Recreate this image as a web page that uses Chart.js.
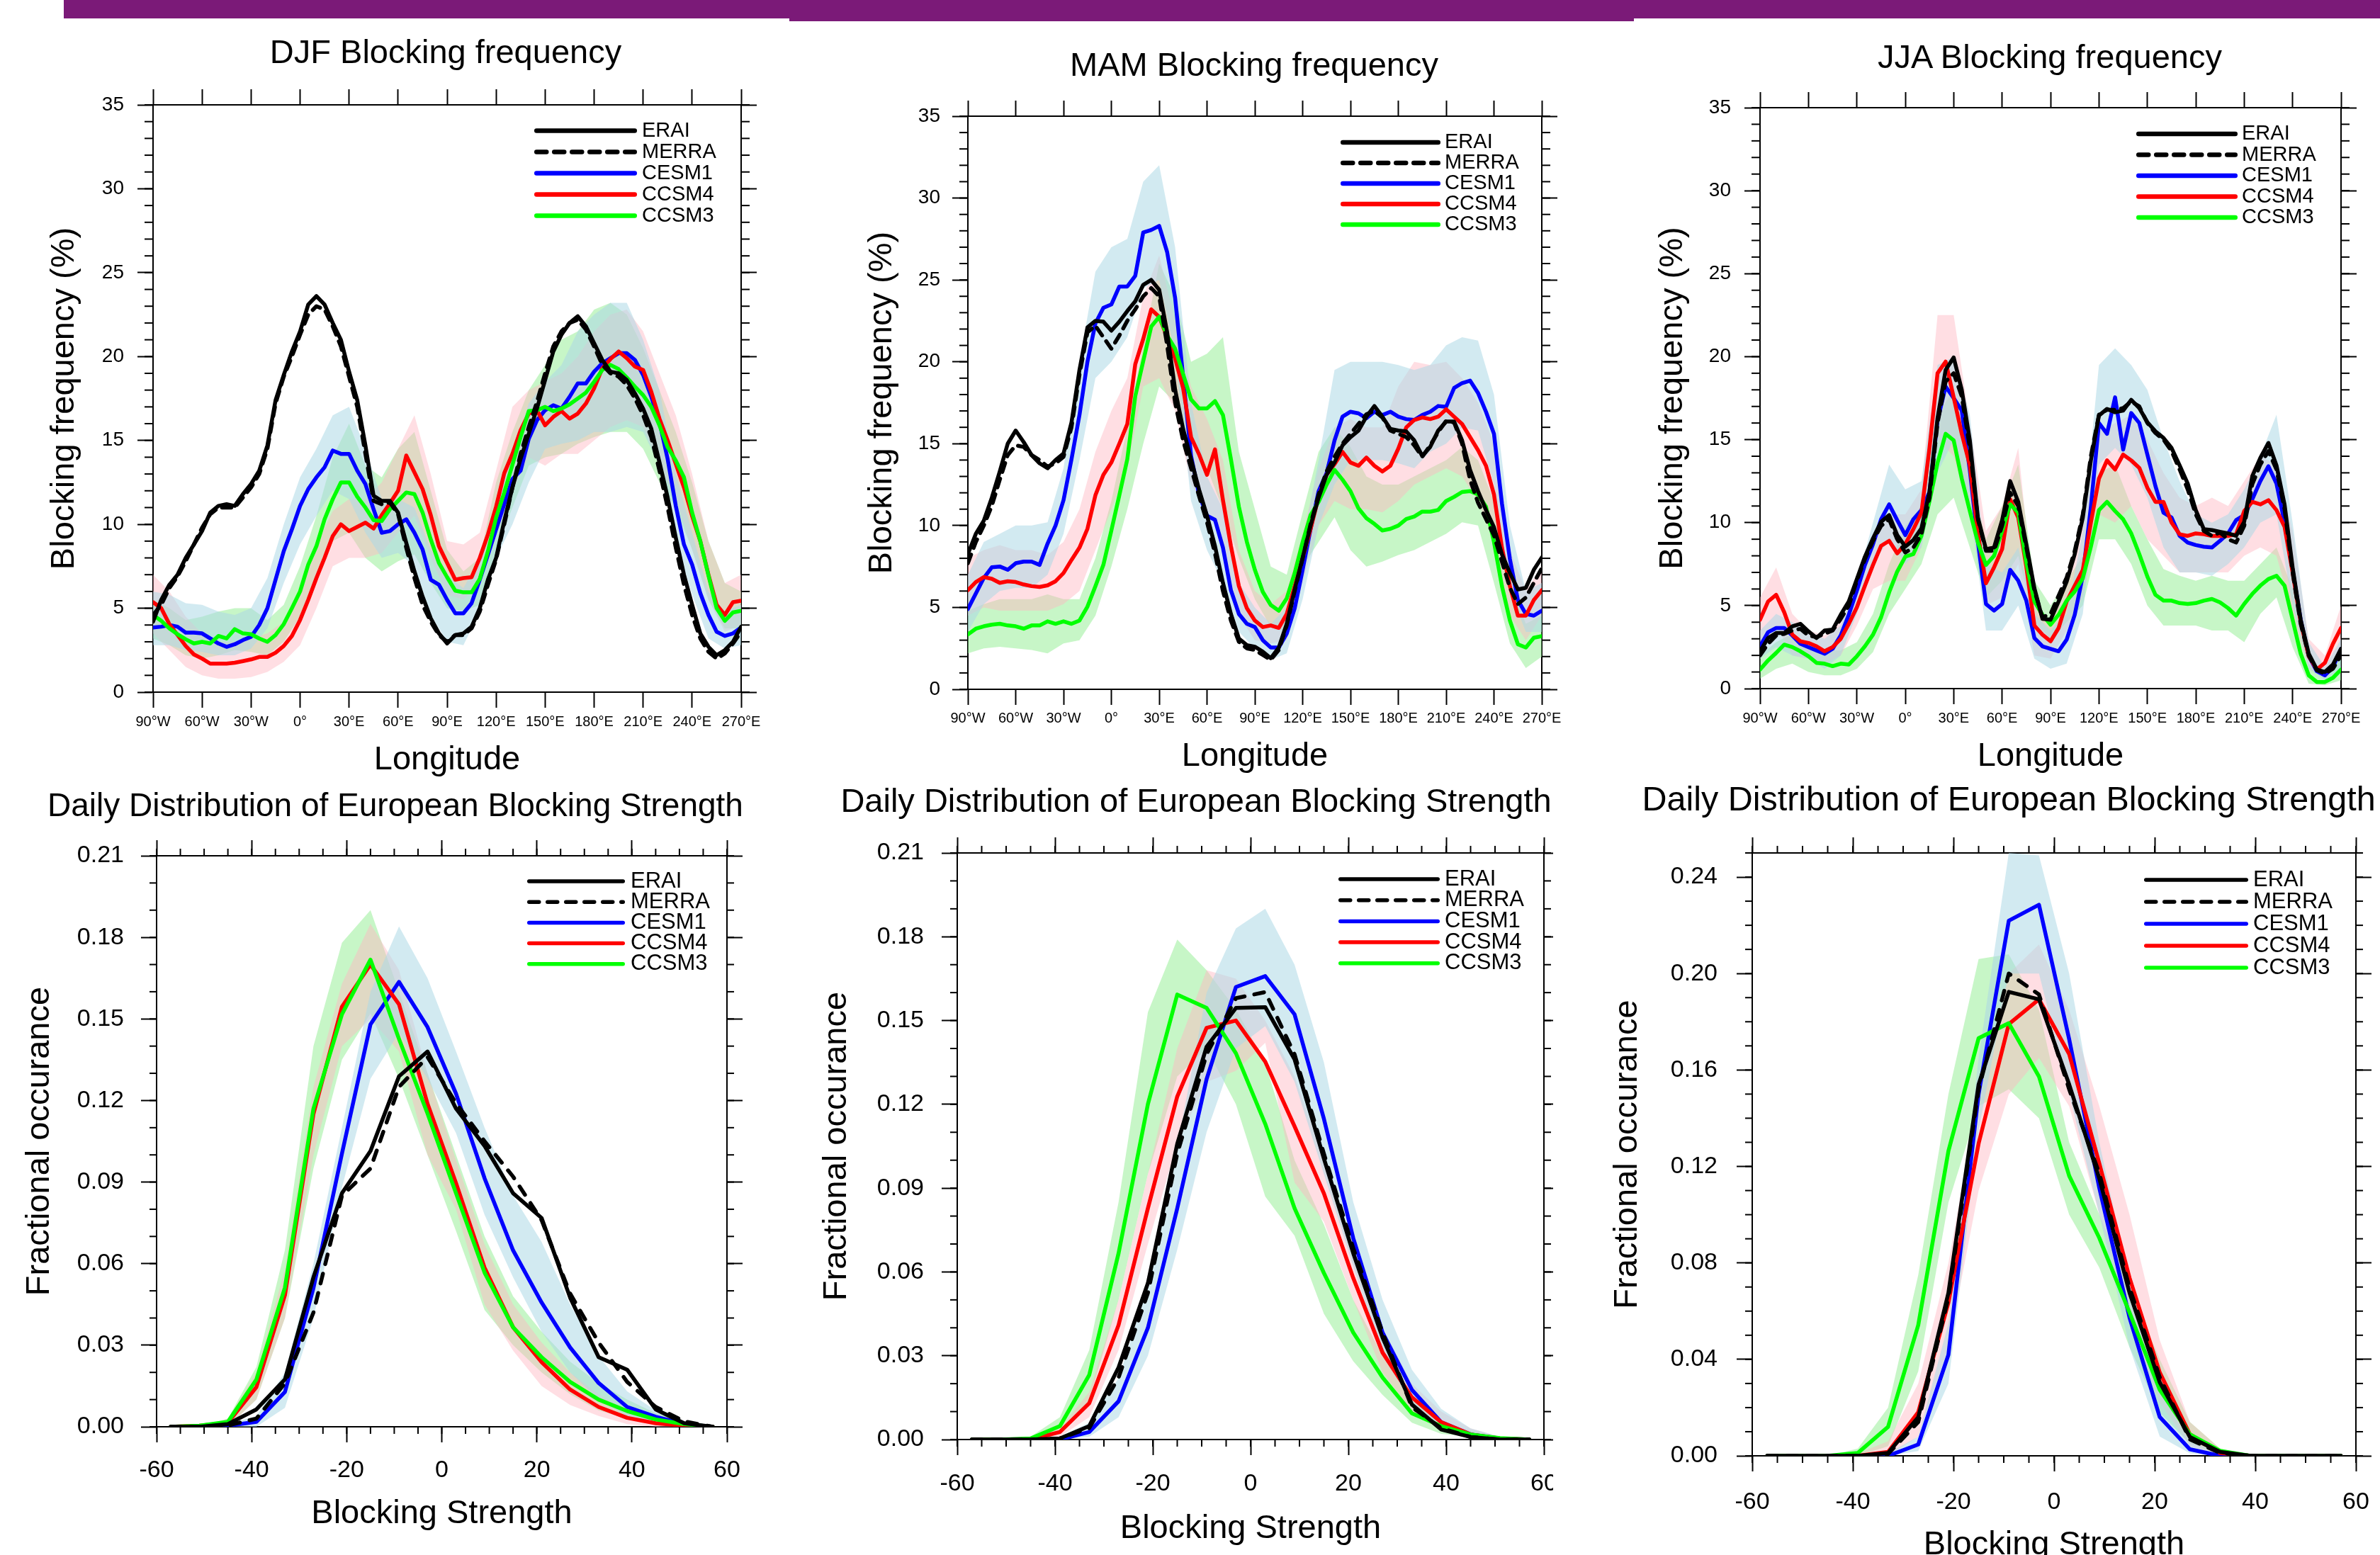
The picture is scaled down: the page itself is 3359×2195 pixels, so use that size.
<!DOCTYPE html>
<html>
<head>
<meta charset="utf-8">
<title>Blocking frequency and European blocking strength</title>
<script src="https://cdn.jsdelivr.net/npm/chart.js@4.4.1/dist/chart.umd.min.js"></script>
<style>
  html, body { margin: 0; padding: 0; }
  body { width: 3359px; height: 2195px; position: relative; overflow: hidden; background: #fff;
         font-family: "Liberation Sans", Arial, sans-serif; }
  .bar { position: absolute; top: 0; background: #7b1a78; z-index: 5; }
  canvas { position: absolute; }
  .ttl { position: absolute; transform: translate(-50%, -50%); white-space: nowrap; line-height: 1;
         color: #000; z-index: 4; }
</style>
</head>
<body>
<div class="bar" style="left:90px;width:1024px;height:26px"></div>
<div class="bar" style="left:1114px;width:1192px;height:30px"></div>
<div class="bar" style="left:2306px;width:1053px;height:26px"></div>

<div class="ttl" style="left:629px;top:72px;font-size:47px">DJF Blocking frequency</div>
<div class="ttl" style="left:1770px;top:90px;font-size:47px">MAM Blocking frequency</div>
<div class="ttl" style="left:2893px;top:79px;font-size:47px">JJA Blocking frequency</div>
<div class="ttl" style="left:558px;top:1136px;font-size:46px">Daily Distribution of European Blocking Strength</div>
<div class="ttl" style="left:1688px;top:1129px;font-size:47px">Daily Distribution of European Blocking Strength</div>
<div class="ttl" style="left:2835px;top:1127px;font-size:48.5px">Daily Distribution of European Blocking Strength</div>

<canvas id="cDJF"></canvas>
<canvas id="cMAM"></canvas>
<canvas id="cJJA"></canvas>
<canvas id="sDJF"></canvas>
<canvas id="sMAM"></canvas>
<canvas id="sJJA"></canvas>

<script>
// ===================== DATA =====================

const lonFine = [-90, -85, -80, -75, -70, -65, -60, -55, -50, -45, -40, -35, -30, -25, -20, -15, -10, -5,
  0, 5, 10, 15, 20, 25, 30, 35, 40, 45, 50, 55, 60, 65, 70, 75, 80, 85, 90, 95, 100, 105, 110, 115,
  120, 125, 130, 135, 140, 145, 150, 155, 160, 165, 170, 175, 180, 185, 190, 195, 200, 205, 210, 215,
  220, 225, 230, 235, 240, 245, 250, 255, 260, 265, 270];
const lonBand = [-90, -80, -70, -60, -50, -40, -30, -20, -10, 0, 10, 20, 30, 40, 50, 60, 70, 80, 90,
  100, 110, 120, 130, 140, 150, 160, 170, 180, 190, 200, 210, 220, 230, 240, 250, 260, 270];

// --- DJF blocking frequency (%) ---
const djfERAI = [4.2, 5.5, 6.4, 7.0, 8.0, 8.8, 9.6, 10.7, 11.1, 11.2, 11.1, 11.8, 12.4, 13.2, 14.7, 17.4, 18.9, 20.3,
  21.5, 23.1, 23.6, 23.1, 22.0, 21.0, 19.1, 17.4, 14.7, 11.7, 11.4, 11.4, 10.7, 8.9, 7.2, 5.7, 4.4, 3.5,
  2.9, 3.4, 3.5, 3.9, 5.0, 6.7, 8.0, 10.2, 12.2, 13.9, 15.4, 16.9, 18.6, 20.3, 21.3, 22.0, 22.4, 21.8,
  20.8, 19.8, 19.1, 19.0, 18.6, 17.8, 16.9, 15.7, 13.7, 11.6, 9.2, 7.0, 5.2, 3.5, 2.7, 2.2, 2.5, 3.0, 3.9];
const djfMERRA = [4.6, 5.2, 6.2, 6.9, 7.8, 8.8, 9.8, 10.6, 11.0, 11.0, 11.0, 11.6, 12.2, 13.0, 14.5, 17.2, 18.8, 20.0,
  21.3, 22.5, 23.0, 22.8, 21.8, 20.6, 18.8, 17.0, 14.2, 11.4, 11.2, 11.3, 10.6, 8.6, 6.8, 5.2, 4.2, 3.4,
  3.0, 3.4, 3.4, 3.8, 4.8, 6.4, 7.9, 10.0, 12.2, 14.2, 15.8, 17.3, 19.0, 20.6, 21.5, 22.0, 22.2, 21.6,
  20.6, 19.5, 19.0, 18.8, 18.3, 17.5, 16.5, 15.2, 13.2, 11.0, 8.6, 6.4, 4.6, 3.2, 2.4, 2.0, 2.3, 2.9, 3.6];
const djfCESM1 = [3.85, 3.9, 4.0, 3.9, 3.55, 3.55, 3.5, 3.2, 2.9, 2.7, 2.85, 3.1, 3.3, 4.0, 5.0, 6.7, 8.4, 9.7,
  11.1, 12.1, 12.8, 13.4, 14.4, 14.2, 14.2, 13.2, 12.4, 10.9, 9.5, 9.6, 10.0, 10.3, 9.5, 8.5, 6.7, 6.4,
  5.5, 4.7, 4.7, 5.3, 6.7, 8.2, 9.7, 11.2, 12.7, 13.2, 15.1, 16.2, 16.8, 17.1, 16.9, 17.6, 18.4, 18.4,
  19.1, 19.6, 19.9, 20.2, 20.2, 19.8, 18.9, 17.6, 16.1, 13.9, 11.1, 8.8, 7.6, 5.9, 4.6, 3.6, 3.35, 3.5, 3.85];
const djfCCSM4 = [5.36, 5.0, 4.05, 3.4, 2.75, 2.25, 2.0, 1.7, 1.7, 1.7, 1.75, 1.85, 1.95, 2.1, 2.1, 2.35, 2.75, 3.35,
  4.3, 5.5, 6.8, 8.0, 9.3, 10.0, 9.6, 9.85, 10.1, 9.75, 10.55, 11.25, 12.0, 14.1, 13.1, 12.1, 10.55, 8.7,
  7.7, 6.7, 6.8, 6.85, 8.0, 9.4, 11.05, 13.05, 14.2, 15.6, 16.6, 16.8, 15.9, 16.4, 16.75, 16.3, 16.6, 17.2,
  18.1, 19.3, 19.85, 20.3, 19.9, 19.4, 19.2, 17.9, 16.3, 15.0, 13.6, 12.2, 10.5, 9.0, 7.0, 5.2, 4.6, 5.36, 5.45];
const djfCCSM3 = [4.6, 4.25, 3.8, 3.45, 3.15, 2.9, 3.0, 2.9, 3.35, 3.2, 3.75, 3.5, 3.45, 3.2, 3.0, 3.4, 4.05, 5.0,
  6.0, 7.6, 8.7, 10.3, 11.5, 12.5, 12.5, 11.65, 11.0, 10.25, 10.2, 10.9, 11.4, 11.9, 11.8, 10.7, 9.1, 7.7,
  6.85, 6.05, 5.95, 5.95, 6.75, 8.4, 10.4, 11.9, 13.55, 15.2, 16.75, 16.8, 17.0, 16.75, 16.9, 17.15, 17.5, 17.85,
  18.5, 19.2, 19.5, 19.25, 18.75, 18.2, 17.7, 17.0, 15.9, 14.6, 13.8, 12.8, 10.7, 9.0, 6.95, 5.0, 4.25, 4.75, 4.85];
const djfCESM1Hi = [6.0, 5.8, 5.3, 5.2, 4.8, 4.6, 5.0, 6.8, 10.0, 12.8, 14.5, 16.5, 17.0, 14.5, 11.5, 11.5, 11.0, 8.5, 7.0,
  6.2, 8.0, 11.2, 14.2, 17.2, 18.5, 19.5, 21.5, 22.5, 23.2, 23.2, 21.0, 18.0, 13.0, 9.5, 6.0, 4.8, 5.2];
const djfCESM1Lo = [2.8, 2.8, 2.5, 2.4, 2.2, 2.2, 2.6, 3.8, 6.5, 8.8, 10.5, 12.0, 11.5, 9.5, 8.0, 8.3, 7.5, 4.6, 3.0,
  2.8, 4.8, 8.0, 10.0, 12.5, 14.5, 14.8, 15.0, 15.5, 15.5, 15.8, 15.5, 13.5, 9.0, 5.8, 3.2, 2.6, 2.8];
const djfCCSM4Hi = [7.0, 6.0, 4.5, 3.5, 3.0, 3.0, 3.2, 3.5, 4.2, 6.0, 8.8, 10.8, 11.5, 11.5, 12.5, 14.5, 16.5, 13.0, 9.0,
  8.8, 9.5, 13.2, 17.0, 18.0, 18.5, 19.0, 20.0, 21.5, 22.5, 22.8, 21.5, 19.0, 16.5, 13.0, 9.0, 6.5, 7.0];
const djfCCSM4Lo = [3.5, 2.5, 1.5, 1.0, 0.8, 0.8, 0.9, 1.2, 1.8, 2.8, 5.0, 7.5, 8.0, 8.0, 8.3, 9.5, 10.5, 8.0, 5.8,
  5.5, 6.5, 9.2, 12.0, 14.0, 13.5, 14.2, 14.2, 15.0, 15.8, 16.2, 15.8, 13.5, 11.5, 8.5, 5.5, 3.6, 4.0];
const djfCCSM3Hi = [5.5, 5.0, 4.3, 4.5, 4.8, 5.0, 5.0, 4.3, 5.2, 7.5, 10.5, 14.0, 16.0, 13.5, 12.8, 14.5, 15.5, 12.0, 8.5,
  7.2, 8.0, 12.5, 15.5, 18.0, 19.5, 21.0, 21.5, 22.8, 23.2, 22.5, 20.5, 18.0, 15.5, 12.5, 9.0, 6.5, 6.0];
const djfCCSM3Lo = [3.2, 2.8, 2.2, 2.0, 2.2, 2.5, 2.4, 2.2, 3.0, 4.5, 6.5, 9.0, 9.5, 8.0, 7.2, 7.8, 8.2, 6.5, 5.0,
  4.8, 5.2, 8.5, 11.0, 13.5, 14.0, 14.2, 14.8, 15.2, 15.5, 15.5, 14.5, 12.5, 11.0, 8.5, 5.5, 3.8, 3.8];

// --- MAM blocking frequency (%) ---
const mamERAI = [8.25, 9.5, 10.3, 11.7, 13.3, 15.0, 15.8, 15.1, 14.3, 13.8, 13.5, 14.0, 14.4, 16.3, 19.5, 22.1, 22.5, 22.45,
  21.9, 22.45, 23.1, 23.7, 24.7, 25.0, 24.4, 21.8, 18.3, 15.9, 14.05, 12.2, 10.6, 8.75, 6.5, 4.6, 3.1, 2.7,
  2.6, 2.3, 1.9, 2.55, 4.0, 6.1, 8.05, 10.0, 11.7, 13.1, 13.85, 14.9, 15.4, 15.8, 16.65, 17.3, 16.65, 15.9,
  15.8, 15.75, 15.2, 14.25, 14.8, 15.8, 16.35, 16.35, 15.2, 13.4, 12.1, 10.95, 9.9, 8.25, 7.1, 6.1, 6.2, 7.3, 8.05];
const mamMERRA = [7.7, 9.0, 10.0, 11.2, 12.8, 14.3, 14.9, 14.8, 14.3, 14.0, 13.6, 13.8, 14.2, 16.0, 19.2, 21.8, 22.2, 21.5,
  20.8, 21.6, 22.5, 23.2, 24.0, 24.5, 24.0, 21.0, 17.5, 15.2, 13.5, 11.8, 10.2, 8.3, 6.0, 4.2, 2.9, 2.5,
  2.4, 2.1, 1.8, 2.4, 3.9, 6.0, 8.0, 10.1, 11.9, 13.3, 14.2, 15.0, 15.6, 16.2, 16.8, 17.0, 16.6, 15.8,
  15.6, 15.4, 14.9, 14.2, 14.9, 15.7, 16.4, 16.3, 15.0, 12.8, 11.4, 10.4, 9.4, 7.8, 6.2, 5.2, 5.6, 6.5, 7.4];
const mamCESM1 = [4.9, 5.85, 6.8, 7.45, 7.5, 7.3, 7.7, 7.8, 7.8, 7.6, 8.9, 10.0, 11.55, 14.05, 16.75, 20.0, 22.35, 23.3,
  23.5, 24.6, 24.6, 25.25, 27.9, 28.05, 28.3, 26.7, 23.9, 19.1, 14.25, 11.9, 10.6, 10.35, 8.65, 6.05, 4.6, 4.0,
  3.8, 3.0, 2.55, 2.55, 3.4, 4.95, 7.3, 9.8, 12.1, 13.2, 15.2, 16.65, 16.95, 16.85, 16.55, 16.95, 16.75, 16.95,
  16.65, 16.5, 16.45, 16.75, 16.95, 17.3, 17.25, 18.4, 18.7, 18.85, 18.1, 16.95, 15.6, 11.35, 7.95, 5.45, 4.6, 4.5, 4.8];
const mamCCSM4 = [6.05, 6.55, 6.85, 6.75, 6.5, 6.6, 6.55, 6.4, 6.3, 6.25, 6.35, 6.6, 7.1, 7.9, 8.65, 9.8, 11.85, 13.1,
  13.85, 15.0, 16.2, 19.85, 21.4, 23.2, 22.75, 21.5, 20.2, 18.4, 15.4, 14.35, 13.1, 14.65, 11.55, 8.75, 6.3, 4.95,
  4.2, 3.8, 3.9, 3.75, 4.6, 6.3, 8.05, 9.8, 11.75, 13.1, 13.75, 14.5, 13.85, 13.65, 14.15, 13.65, 13.3, 13.65,
  14.7, 16.0, 16.45, 16.6, 16.5, 16.65, 17.1, 16.65, 16.2, 15.4, 14.6, 13.65, 11.9, 8.65, 6.3, 4.5, 4.5, 5.45, 6.05];
const mamCCSM3 = [3.35, 3.7, 3.85, 3.95, 4.0, 3.9, 3.85, 3.7, 3.9, 3.9, 4.15, 4.0, 4.15, 4.0, 4.2, 5.05, 6.3, 7.6,
  9.7, 11.85, 14.05, 17.9, 20.05, 22.15, 22.75, 21.6, 20.8, 19.25, 17.7, 17.15, 17.15, 17.6, 16.75, 14.05, 11.15, 9.0,
  7.3, 5.95, 5.15, 4.8, 5.55, 7.1, 9.0, 10.65, 11.45, 12.5, 13.4, 12.8, 12.1, 11.05, 10.45, 10.1, 9.7, 9.8,
  10.0, 10.4, 10.55, 10.85, 10.85, 10.95, 11.5, 11.75, 12.05, 12.1, 11.9, 11.15, 9.0, 6.3, 4.2, 2.75, 2.55, 3.15, 3.25];
const mamCESM1Hi = [7.0, 9.0, 9.5, 10.0, 10.0, 10.2, 13.5, 20.0, 25.5, 27.0, 27.5, 31.0, 32.0, 27.0, 17.5, 13.0, 11.0, 6.5, 5.0,
  4.0, 5.0, 9.0, 14.0, 19.5, 20.0, 20.0, 20.0, 19.8, 19.5, 19.8, 21.0, 21.5, 21.3, 18.0, 10.0, 6.0, 6.5];
const mamCESM1Lo = [3.5, 5.2, 6.0, 6.2, 6.2, 7.0, 9.5, 14.0, 19.0, 20.0, 21.5, 24.5, 25.0, 20.5, 11.5, 8.5, 6.5, 3.5, 2.5,
  1.8, 2.2, 5.5, 10.0, 12.5, 14.0, 14.0, 14.0, 13.8, 13.5, 14.5, 15.0, 16.0, 15.8, 12.5, 6.0, 3.5, 3.5];
const mamCCSM4Hi = [8.0, 8.5, 8.8, 8.5, 8.5, 8.2, 9.0, 11.0, 14.5, 17.0, 19.0, 24.0, 26.5, 22.5, 18.5, 16.5, 14.0, 8.5, 6.0,
  5.2, 6.0, 9.5, 13.5, 16.0, 16.5, 16.0, 16.0, 18.5, 20.0, 19.8, 20.0, 19.0, 17.5, 15.0, 8.5, 6.0, 7.5];
const mamCCSM4Lo = [4.5, 5.0, 4.8, 4.8, 4.8, 4.8, 5.2, 6.0, 8.5, 11.0, 13.5, 18.5, 19.0, 17.0, 12.5, 11.0, 9.0, 4.5, 3.0,
  2.8, 3.0, 6.5, 10.0, 11.5, 11.0, 11.0, 10.8, 11.5, 12.5, 13.0, 13.5, 13.0, 11.5, 9.0, 4.5, 3.0, 4.5];
const mamCCSM3Hi = [4.8, 5.2, 5.5, 5.5, 5.5, 5.8, 5.5, 5.5, 8.0, 11.5, 16.0, 21.0, 26.0, 24.0, 20.0, 20.5, 21.5, 14.5, 11.0,
  7.5, 7.0, 10.8, 14.5, 16.0, 14.8, 13.0, 12.5, 12.5, 13.0, 13.5, 14.0, 14.8, 14.0, 11.5, 6.5, 4.0, 4.5];
const mamCCSM3Lo = [2.2, 2.5, 2.6, 2.5, 2.4, 2.2, 2.8, 3.0, 4.5, 7.5, 11.0, 15.0, 18.5, 17.5, 15.0, 13.5, 11.0, 8.0, 5.5,
  3.8, 3.5, 7.5, 9.0, 10.5, 8.5, 7.5, 7.8, 8.2, 8.5, 9.0, 9.5, 10.2, 10.0, 6.5, 2.8, 1.3, 2.0];

// --- JJA blocking frequency (%) ---
const jjaERAI = [2.25, 3.05, 3.35, 3.35, 3.75, 3.9, 3.45, 3.05, 3.5, 3.55, 4.45, 5.25, 6.6, 7.95, 9.05, 10.05, 10.45, 9.25,
  8.55, 8.95, 9.65, 11.85, 16.3, 19.2, 19.95, 18.0, 14.95, 10.3, 8.4, 8.5, 10.15, 12.5, 11.25, 8.7, 6.05, 4.2,
  4.15, 5.25, 6.45, 8.1, 10.3, 13.75, 16.45, 16.85, 16.65, 16.75, 17.4, 16.9, 16.05, 15.5, 15.1, 14.5, 13.45, 12.35,
  10.75, 9.6, 9.55, 9.45, 9.35, 9.2, 10.05, 12.8, 13.9, 14.8, 13.45, 11.1, 7.3, 4.15, 2.1, 1.15, 1.0, 1.45, 2.4];
const jjaMERRA = [2.0, 2.7, 3.2, 3.3, 3.5, 3.6, 3.2, 3.1, 3.3, 3.5, 4.2, 5.0, 6.5, 7.8, 8.9, 9.8, 10.2, 9.0,
  8.2, 8.5, 9.3, 11.5, 16.0, 18.5, 19.0, 17.6, 14.5, 10.2, 8.3, 8.3, 9.8, 11.8, 11.0, 8.5, 5.9, 4.3,
  4.5, 5.6, 6.7, 8.3, 10.5, 14.0, 16.5, 16.8, 16.8, 16.9, 17.3, 17.0, 16.0, 15.4, 15.0, 14.3, 13.2, 12.0,
  10.5, 9.5, 9.2, 9.4, 9.0, 8.8, 9.8, 12.3, 13.5, 14.3, 13.2, 10.8, 7.0, 3.9, 2.0, 1.1, 0.9, 1.2, 2.0];
const jjaCESM1 = [2.55, 3.4, 3.65, 3.65, 3.2, 2.7, 2.5, 2.3, 2.1, 2.4, 3.2, 4.45, 5.9, 7.45, 8.7, 10.2, 11.1, 10.15,
  9.25, 10.2, 10.75, 11.85, 16.15, 18.2, 17.5, 16.75, 13.15, 8.85, 5.1, 4.7, 5.1, 7.15, 6.5, 5.3, 3.05, 2.55,
  2.4, 2.25, 2.95, 4.45, 6.8, 10.95, 16.0, 15.35, 17.55, 14.4, 16.6, 16.0, 14.1, 12.2, 10.6, 10.3, 9.2, 8.8,
  8.65, 8.55, 8.5, 8.9, 9.35, 10.15, 10.45, 11.4, 12.5, 13.4, 12.35, 10.0, 7.15, 4.15, 1.95, 1.05, 0.8, 1.3, 2.4];
const jjaCCSM4 = [4.15, 5.25, 5.65, 4.6, 3.25, 2.85, 2.75, 2.55, 2.25, 2.5, 3.0, 3.9, 4.9, 6.2, 7.45, 8.6, 8.9, 8.15,
  8.7, 9.6, 10.6, 14.5, 19.0, 19.7, 17.55, 15.35, 13.45, 9.35, 6.35, 7.3, 8.4, 11.4, 10.3, 7.35, 3.8, 3.25,
  2.85, 3.65, 5.25, 6.2, 7.15, 10.0, 12.65, 13.75, 13.2, 14.1, 13.75, 13.3, 12.1, 11.25, 11.25, 10.0, 9.3, 9.2,
  9.35, 9.3, 9.2, 9.2, 9.2, 9.3, 10.7, 11.25, 11.1, 11.35, 10.75, 9.75, 7.0, 4.0, 1.95, 1.15, 1.55, 2.7, 3.65];
const jjaCCSM3 = [1.15, 1.7, 2.15, 2.65, 2.5, 2.25, 1.95, 1.55, 1.5, 1.35, 1.5, 1.45, 1.95, 2.55, 3.25, 4.3, 5.8, 7.05,
  7.95, 8.1, 9.2, 11.3, 13.6, 15.35, 14.95, 12.65, 10.7, 8.8, 7.45, 8.0, 9.5, 11.1, 10.6, 7.6, 5.25, 4.45,
  3.85, 4.45, 5.3, 5.85, 6.65, 8.55, 10.75, 11.25, 10.7, 10.2, 9.35, 8.1, 6.75, 5.65, 5.3, 5.3, 5.15, 5.1,
  5.15, 5.3, 5.4, 5.2, 4.85, 4.4, 5.1, 5.7, 6.2, 6.6, 6.8, 6.2, 4.15, 2.1, 0.8, 0.4, 0.4, 0.65, 1.15];
const jjaCESM1Hi = [3.5, 4.5, 4.0, 3.5, 3.0, 3.8, 6.5, 10.0, 13.5, 12.0, 12.5, 19.5, 20.0, 16.5, 7.5, 7.0, 8.5, 4.5, 3.5,
  4.5, 9.5, 19.5, 20.5, 19.5, 18.0, 15.0, 12.5, 10.5, 10.0, 10.5, 12.0, 14.0, 16.5, 10.0, 2.8, 1.3, 3.0];
const jjaCESM1Lo = [1.8, 2.5, 2.0, 1.8, 1.2, 2.0, 4.5, 7.5, 9.0, 7.5, 8.5, 13.0, 15.0, 11.0, 3.5, 3.5, 5.0, 1.8, 1.2,
  1.5, 4.5, 13.5, 14.5, 13.5, 11.5, 8.5, 7.0, 7.0, 6.8, 7.5, 8.5, 10.0, 10.5, 5.0, 1.2, 0.5, 1.2];
const jjaCCSM4Hi = [5.5, 7.3, 4.5, 3.5, 3.2, 4.0, 6.0, 9.0, 10.5, 10.5, 12.0, 22.5, 22.5, 16.0, 9.5, 11.0, 14.5, 5.0, 4.0,
  6.5, 10.0, 15.5, 16.0, 16.5, 15.0, 13.0, 11.5, 11.0, 11.5, 11.0, 12.5, 14.0, 13.5, 9.5, 3.0, 2.0, 5.0];
const jjaCCSM4Lo = [2.5, 3.8, 2.0, 1.8, 1.5, 2.0, 3.8, 6.0, 6.5, 6.5, 8.5, 15.0, 14.0, 10.5, 5.0, 5.5, 7.5, 2.0, 1.8,
  3.5, 5.5, 10.5, 10.0, 11.0, 9.0, 8.0, 7.0, 7.0, 7.0, 7.0, 8.0, 8.5, 8.0, 4.5, 1.2, 0.6, 2.5];
const jjaCCSM3Hi = [2.0, 2.8, 3.3, 2.6, 2.3, 2.3, 2.8, 4.5, 7.5, 9.8, 11.0, 16.5, 18.0, 13.0, 9.0, 11.0, 13.5, 6.5, 5.0,
  6.5, 8.0, 13.0, 13.5, 11.0, 9.0, 7.2, 6.8, 6.5, 6.8, 6.5, 6.5, 7.5, 8.5, 6.0, 1.5, 0.8, 1.8];
const jjaCCSM3Lo = [0.6, 1.2, 1.5, 1.0, 0.8, 0.8, 1.2, 2.2, 4.5, 6.0, 7.5, 10.5, 11.5, 8.5, 5.5, 6.5, 8.0, 4.0, 3.0,
  4.0, 5.0, 9.0, 9.0, 7.5, 5.0, 3.8, 3.8, 3.8, 3.5, 3.5, 2.8, 4.5, 5.5, 2.5, 0.3, 0.2, 0.5];

// --- European blocking strength distributions (fractional occurance) ---
const strength = [-57, -51, -45, -39, -33, -27, -21, -15, -9, -3, 3, 9, 15, 21, 27, 33, 39, 45, 51, 57];

const sdjfERAI  = [0, 0, 0.001, 0.0064, 0.0174, 0.055, 0.0859, 0.1014, 0.1289, 0.138, 0.117, 0.1033, 0.0859, 0.0768, 0.0475, 0.0256, 0.021, 0.0064, 0.0013, 0];
const sdjfMERRA = [0, 0, 0.0005, 0.003, 0.016, 0.042, 0.085, 0.095, 0.125, 0.136, 0.119, 0.105, 0.092, 0.076, 0.049, 0.031, 0.0165, 0.0073, 0.002, 0];
const sdjfCESM1 = [0, 0, 0.0004, 0.0018, 0.0128, 0.051, 0.1005, 0.148, 0.1636, 0.147, 0.1225, 0.0914, 0.0649, 0.0457, 0.0292, 0.0161, 0.0073, 0.0037, 0.001, 0];
const sdjfCCSM4 = [0, 0.0004, 0.0015, 0.0146, 0.0484, 0.115, 0.1545, 0.17, 0.1554, 0.1188, 0.0896, 0.0585, 0.0366, 0.0238, 0.0137, 0.0073, 0.0033, 0.0013, 0.0004, 0];
const sdjfCCSM3 = [0, 0.0004, 0.0018, 0.0174, 0.0512, 0.117, 0.1517, 0.1718, 0.1426, 0.1152, 0.0859, 0.0567, 0.0366, 0.0256, 0.0165, 0.01, 0.0058, 0.0027, 0.001, 0];
const sdjfCESM1Hi = [0, 0, 0.001, 0.004, 0.02, 0.06, 0.11, 0.16, 0.184, 0.165, 0.138, 0.11, 0.085, 0.068, 0.045, 0.026, 0.013, 0.006, 0.002, 0];
const sdjfCESM1Lo = [0, 0, 0, 0, 0.007, 0.04, 0.088, 0.128, 0.145, 0.128, 0.108, 0.078, 0.055, 0.035, 0.02, 0.01, 0.004, 0.0015, 0, 0];
const sdjfCCSM4Hi = [0, 0, 0.003, 0.02, 0.058, 0.125, 0.163, 0.185, 0.168, 0.13, 0.098, 0.067, 0.045, 0.031, 0.02, 0.012, 0.006, 0.003, 0.001, 0];
const sdjfCCSM4Lo = [0, 0, 0, 0.01, 0.04, 0.1, 0.14, 0.15, 0.138, 0.1, 0.08, 0.045, 0.028, 0.015, 0.008, 0.004, 0.001, 0, 0, 0];
const sdjfCCSM3Hi = [0, 0, 0.003, 0.022, 0.065, 0.14, 0.178, 0.19, 0.16, 0.13, 0.1, 0.07, 0.048, 0.035, 0.024, 0.016, 0.01, 0.005, 0.002, 0];
const sdjfCCSM3Lo = [0, 0, 0, 0.01, 0.04, 0.095, 0.135, 0.152, 0.128, 0.1, 0.072, 0.043, 0.03, 0.02, 0.012, 0.006, 0.003, 0.001, 0, 0];

const smamERAI  = [0, 0, 0, 0.0004, 0.0048, 0.0258, 0.056, 0.1059, 0.1406, 0.1545, 0.1548, 0.1361, 0.1006, 0.0667, 0.0365, 0.0125, 0.0036, 0.0009, 0, 0];
const smamMERRA = [0, 0, 0, 0.0004, 0.0041, 0.0222, 0.0525, 0.1023, 0.1379, 0.158, 0.1602, 0.1379, 0.1023, 0.0685, 0.0383, 0.0116, 0.0041, 0.0009, 0, 0];
const smamCESM1 = [0, 0, 0, 0, 0.0027, 0.0137, 0.04, 0.0828, 0.129, 0.162, 0.1659, 0.1522, 0.1148, 0.0721, 0.0383, 0.0178, 0.0062, 0.0018, 0.0004, 0];
const smamCCSM4 = [0, 0, 0, 0.0027, 0.013, 0.041, 0.0828, 0.1228, 0.1474, 0.15, 0.1353, 0.1121, 0.0881, 0.0578, 0.0311, 0.0151, 0.0062, 0.0018, 0.0004, 0];
const smamCCSM3 = [0, 0, 0.0004, 0.0048, 0.0231, 0.0667, 0.1201, 0.1593, 0.1545, 0.1383, 0.113, 0.0828, 0.0596, 0.0383, 0.0222, 0.0094, 0.0048, 0.0018, 0.0005, 0];
const smamCESM1Hi = [0, 0, 0, 0.001, 0.006, 0.022, 0.055, 0.105, 0.16, 0.183, 0.19, 0.17, 0.135, 0.085, 0.05, 0.025, 0.011, 0.004, 0.001, 0];
const smamCESM1Lo = [0, 0, 0, 0, 0.001, 0.008, 0.03, 0.068, 0.11, 0.14, 0.148, 0.128, 0.095, 0.062, 0.03, 0.013, 0.004, 0.001, 0, 0];
const smamCCSM4Hi = [0, 0, 0, 0.004, 0.017, 0.05, 0.095, 0.14, 0.168, 0.165, 0.15, 0.13, 0.1, 0.07, 0.04, 0.02, 0.01, 0.004, 0.001, 0];
const smamCCSM4Lo = [0, 0, 0, 0.001, 0.008, 0.032, 0.07, 0.106, 0.128, 0.132, 0.142, 0.092, 0.078, 0.05, 0.024, 0.01, 0.003, 0.001, 0, 0];
const smamCCSM3Hi = [0, 0, 0.001, 0.008, 0.032, 0.085, 0.153, 0.179, 0.168, 0.154, 0.135, 0.1, 0.077, 0.05, 0.03, 0.014, 0.007, 0.003, 0.001, 0];
const smamCCSM3Lo = [0, 0, 0, 0.002, 0.014, 0.05, 0.095, 0.13, 0.14, 0.12, 0.087, 0.073, 0.045, 0.028, 0.016, 0.006, 0.002, 0.001, 0, 0];

const sjjaERAI  = [0, 0, 0, 0, 0.0012, 0.016, 0.0676, 0.154, 0.1924, 0.1893, 0.154, 0.115, 0.0676, 0.0305, 0.0078, 0.0016, 0, 0, 0, 0];
const sjjaMERRA = [0, 0, 0, 0, 0.0008, 0.014, 0.0656, 0.152, 0.2, 0.1913, 0.152, 0.117, 0.0697, 0.0326, 0.0068, 0.0012, 0, 0, 0, 0];
const sjjaCESM1 = [0, 0, 0, 0, 0, 0.0047, 0.0419, 0.15, 0.2219, 0.2285, 0.1728, 0.111, 0.0573, 0.0161, 0.0027, 0, 0, 0, 0, 0];
const sjjaCCSM4 = [0, 0, 0, 0, 0.0016, 0.0181, 0.0635, 0.1295, 0.179, 0.1893, 0.1666, 0.1212, 0.0738, 0.0346, 0.0089, 0.0012, 0, 0, 0, 0];
const sjjaCCSM3 = [0, 0, 0, 0.0012, 0.012, 0.0542, 0.1264, 0.1732, 0.1794, 0.1573, 0.1161, 0.0903, 0.0594, 0.0274, 0.0089, 0.0021, 0, 0, 0, 0];
const sjjaCESM1Hi = [0, 0, 0, 0, 0.001, 0.008, 0.055, 0.165, 0.25, 0.249, 0.2, 0.13, 0.072, 0.027, 0.006, 0.001, 0, 0, 0, 0];
const sjjaCESM1Lo = [0, 0, 0, 0, 0, 0.002, 0.03, 0.135, 0.2, 0.2, 0.15, 0.1, 0.045, 0.008, 0.001, 0, 0, 0, 0, 0];
const sjjaCCSM4Hi = [0, 0, 0, 0.001, 0.006, 0.03, 0.08, 0.15, 0.2, 0.212, 0.185, 0.145, 0.1, 0.048, 0.014, 0.003, 0, 0, 0, 0];
const sjjaCCSM4Lo = [0, 0, 0, 0, 0, 0.008, 0.045, 0.11, 0.15, 0.165, 0.145, 0.1, 0.055, 0.022, 0.004, 0, 0, 0, 0, 0];
const sjjaCCSM3Hi = [0, 0, 0, 0.003, 0.02, 0.075, 0.15, 0.206, 0.208, 0.185, 0.13, 0.1, 0.07, 0.04, 0.014, 0.003, 0, 0, 0, 0];
const sjjaCCSM3Lo = [0, 0, 0, 0, 0.004, 0.035, 0.105, 0.145, 0.152, 0.14, 0.1, 0.078, 0.045, 0.018, 0.005, 0.001, 0, 0, 0, 0];

const legendOrder = ['ERAI', 'MERRA', 'CESM1', 'CCSM4', 'CCSM3'];

// ===================== STYLE =====================

const FONT = '"Liberation Sans", Arial, sans-serif';
const LINE_COLOR = { ERAI: '#000000', MERRA: '#000000', CESM1: '#0000ff', CCSM4: '#ff0000', CCSM3: '#00ff00' };
const BAND_COLOR = {
    CESM1: 'rgba(173,216,230,0.55)',
    CCSM4: 'rgba(255,182,193,0.45)',
    CCSM3: 'rgba(144,238,144,0.5)'
};
const MAJOR_TICK = 22;

Chart.defaults.font.family = FONT;
Chart.defaults.color = '#000';

// ===================== DATASET HELPERS =====================

function lineSet(label, xs, ys, width, dash) {
    return {
        label,
        data: xs.map((x, i) => ({ x, y: ys[i] })),
        borderColor: LINE_COLOR[label],
        borderWidth: width,
        borderDash: dash || [],
        borderCapStyle: 'round',
        borderJoinStyle: 'round',
        pointRadius: 0,
        tension: 0,
        fill: false,
        xAxisID: 'x',
        yAxisID: 'y'
    };
}

// lower edge (invisible) followed by upper edge filled down to it
function bandSets(xs, lo, hi, color) {
    const edge = ys => ({
        data: xs.map((x, i) => ({ x, y: ys[i] })),
        borderColor: 'rgba(0,0,0,0)',
        borderWidth: 0,
        pointRadius: 0,
        tension: 0,
        xAxisID: 'x',
        yAxisID: 'y'
    });
    return [
        { ...edge(lo), label: 'band-lo', fill: false },
        { ...edge(hi), label: 'band-hi', fill: '-1', backgroundColor: color }
    ];
}

// ===================== PLUGINS =====================

function minorTicks(spec) {
    return {
        id: 'minorTicks',
        afterDraw(chart) {
            const ctx = chart.ctx, a = chart.chartArea;
            ctx.save();
            ctx.strokeStyle = '#000';
            ctx.lineWidth = 2;
            ['x', 'x2', 'y', 'y2'].forEach(id => {
                const step = id[0] === 'x' ? spec.x : spec.y;
                if (!step) return;
                const s = chart.scales[id];
                const n = Math.round((s.max - s.min) / step);
                for (let i = 0; i <= n; i++) {
                    const p = s.getPixelForValue(s.min + i * step);
                    ctx.beginPath();
                    if (id === 'x')       { ctx.moveTo(p, a.bottom); ctx.lineTo(p, a.bottom + spec.len); }
                    else if (id === 'x2') { ctx.moveTo(p, a.top);    ctx.lineTo(p, a.top - spec.len); }
                    else if (id === 'y')  { ctx.moveTo(a.left, p);   ctx.lineTo(a.left - spec.len, p); }
                    else                  { ctx.moveTo(a.right, p);  ctx.lineTo(a.right + spec.len, p); }
                    ctx.stroke();
                }
            });
            ctx.restore();
        }
    };
}

function lineLegend(spec) {
    return {
        id: 'lineLegend',
        afterDatasetsDraw(chart) {
            const ctx = chart.ctx;
            const half = spec.lw / 2;
            ctx.save();
            legendOrder.forEach((name, k) => {
                const ds = chart.data.datasets.find(d => d.label === name);
                const y = spec.y0 + k * spec.dy;
                ctx.strokeStyle = ds.borderColor;
                ctx.lineWidth = spec.lw;
                ctx.lineCap = 'round';
                ctx.setLineDash(ds.borderDash.length ? spec.dash : []);
                ctx.beginPath();
                ctx.moveTo(spec.x + half, y);
                ctx.lineTo(spec.x + spec.len - half, y);
                ctx.stroke();
                ctx.setLineDash([]);
                ctx.fillStyle = '#000';
                ctx.font = spec.size + 'px ' + FONT;
                ctx.textAlign = 'left';
                ctx.textBaseline = 'middle';
                ctx.fillText(name, spec.tx, y);
            });
            ctx.restore();
        }
    };
}

// ===================== PANEL BUILDER =====================

function fixed(prop, val) {
    return s => {
        s[prop] = val;
        s.paddingLeft = 0; s.paddingRight = 0; s.paddingTop = 0; s.paddingBottom = 0;
    };
}

function drawPanel(p, datasets) {
    const cv = document.getElementById(p.id);
    const [bx, by, bw, bh] = p.box;
    const [l, t, r, b] = p.plot;
    cv.width = bw; cv.height = bh;
    cv.style.left = bx + 'px'; cv.style.top = by + 'px';

    const grid = { drawOnChartArea: false, drawTicks: true, tickLength: MAJOR_TICK, tickWidth: 2, tickColor: '#000' };
    const border = { display: true, color: '#000', width: 2 };
    const titleFont = { family: FONT, size: 47, lineHeight: 1 };
    const xPad = p.xLabY - b - MAJOR_TICK - 0.6 * p.xFont;
    const yPad = l - p.yLabR - MAJOR_TICK;

    const xCommon = { type: 'linear', min: p.xMin, max: p.xMax, grid, border };
    const yCommon = { type: 'linear', min: p.yMin, max: p.yMax, grid, border };

    new Chart(cv, {
        type: 'line',
        data: { datasets },
        options: {
            responsive: false,
            animation: false,
            devicePixelRatio: 1,
            events: [],
            layout: { padding: 0 },
            plugins: { legend: { display: false }, tooltip: { enabled: false }, title: { display: false } },
            scales: {
                x: {
                    ...xCommon, position: 'bottom',
                    ticks: { stepSize: p.xStep, autoSkip: false, maxRotation: 0, minRotation: 0, includeBounds: false,
                             padding: xPad, color: '#000', font: { family: FONT, size: p.xFont }, callback: p.xFmt },
                    title: { display: true, text: p.xTitle, color: '#000', font: titleFont,
                             padding: { top: 0, bottom: by + bh - p.xTitleY - 23.5 } },
                    afterFit: fixed('height', by + bh - b)
                },
                x2: {
                    ...xCommon, position: 'top',
                    ticks: { stepSize: p.xStep, display: false, autoSkip: false, includeBounds: false },
                    afterFit: fixed('height', t - by)
                },
                y: {
                    ...yCommon, position: 'left',
                    ticks: { stepSize: p.yStep, autoSkip: false, includeBounds: false,
                             padding: yPad, color: '#000', font: { family: FONT, size: p.yFont }, callback: p.yFmt },
                    title: { display: true, text: p.yTitle, color: '#000', font: titleFont,
                             padding: { top: p.yTitleX - bx - 23.5, bottom: 0 } },
                    afterFit: fixed('width', l - bx)
                },
                y2: {
                    ...yCommon, position: 'right',
                    ticks: { stepSize: p.yStep, display: false, autoSkip: false, includeBounds: false },
                    afterFit: fixed('width', bx + bw - r)
                }
            }
        },
        plugins: [
            minorTicks({ x: p.xMinor, y: p.yMinor, len: p.minorLen }),
            lineLegend({ x: p.leg.x - bx, y0: p.leg.y0 - by, dy: p.leg.dy, len: p.leg.len, tx: p.leg.tx - bx,
                         size: p.leg.size, lw: p.leg.lw, dash: p.leg.dash })
        ]
    });
}

// ===================== BUILD =====================

const lonFmt = v => v < 0 ? (-v) + '°W' : (v === 0 ? '0°' : v + '°E');
const intFmt = v => String(v);
const fracFmt = v => v.toFixed(2);
const freqDash = [13, 10];
const strDash = [14, 14];

function seasonSets(xLine, xBand, dash, erai, merra, cesm1, ccsm4, ccsm3, cHi, cLo, fHi, fLo, tHi, tLo) {
    return [
        lineSet('ERAI', xLine, erai, 5.5),
        lineSet('MERRA', xLine, merra, 5.5, dash),
        lineSet('CCSM3', xLine, ccsm3, 5.5),
        lineSet('CCSM4', xLine, ccsm4, 5.5),
        lineSet('CESM1', xLine, cesm1, 5.5),
        ...bandSets(xBand, cLo, cHi, BAND_COLOR.CESM1),
        ...bandSets(xBand, fLo, fHi, BAND_COLOR.CCSM4),
        ...bandSets(xBand, tLo, tHi, BAND_COLOR.CCSM3)
    ];
}

const freqAxes = {
    xMin: -90, xMax: 270, xStep: 30, xMinor: 0, xFont: 20, xFmt: lonFmt, xTitle: 'Longitude',
    yMin: 0, yMax: 35, yStep: 5, yMinor: 1, yFont: 28, yFmt: intFmt, yTitle: 'Blocking frequency (%)',
    minorLen: 12
};
const strAxes = {
    xMin: -60, xMax: 60, xStep: 20, xMinor: 5, xFont: 34, xFmt: intFmt, xTitle: 'Blocking Strength',
    yMin: 0, yMinor: 0.01, yFont: 34, yFmt: fracFmt, yTitle: 'Fractional occurance',
    minorLen: 10
};

drawPanel({ ...freqAxes, id: 'cDJF', box: [0, 0, 1115, 1110], plot: [216, 148, 1046, 977],
            yTitleX: 91, xTitleY: 1073, yLabR: 175, xLabY: 1019,
            leg: { x: 754, y0: 184.5, dy: 30, len: 145, tx: 906, size: 29, lw: 6.5, dash: [14, 11] } },
    seasonSets(lonFine, lonBand, freqDash, djfERAI, djfMERRA, djfCESM1, djfCCSM4, djfCCSM3,
               djfCESM1Hi, djfCESM1Lo, djfCCSM4Hi, djfCCSM4Lo, djfCCSM3Hi, djfCCSM3Lo));

drawPanel({ ...freqAxes, id: 'cMAM', box: [1115, 0, 1125, 1110], plot: [1366, 164, 2176, 973],
            yTitleX: 1245, xTitleY: 1068, yLabR: 1327, xLabY: 1014,
            leg: { x: 1892, y0: 201, dy: 29, len: 141, tx: 2039, size: 29, lw: 6.5, dash: [14, 11] } },
    seasonSets(lonFine, lonBand, freqDash, mamERAI, mamMERRA, mamCESM1, mamCCSM4, mamCCSM3,
               mamCESM1Hi, mamCESM1Lo, mamCCSM4Hi, mamCCSM4Lo, mamCCSM3Hi, mamCCSM3Lo));

drawPanel({ ...freqAxes, id: 'cJJA', box: [2240, 0, 1119, 1110], plot: [2484, 152, 3304, 972],
            yTitleX: 2361, xTitleY: 1068, yLabR: 2443, xLabY: 1014,
            leg: { x: 3015, y0: 189, dy: 29.5, len: 143, tx: 3164, size: 29, lw: 6.5, dash: [14, 11] } },
    seasonSets(lonFine, lonBand, freqDash, jjaERAI, jjaMERRA, jjaCESM1, jjaCCSM4, jjaCCSM3,
               jjaCESM1Hi, jjaCESM1Lo, jjaCCSM4Hi, jjaCCSM4Lo, jjaCCSM3Hi, jjaCCSM3Lo));

drawPanel({ ...strAxes, id: 'sDJF', box: [0, 1100, 1115, 1095], plot: [221, 1208, 1026, 2014],
            yMax: 0.21, yStep: 0.03, yTitleX: 56, xTitleY: 2137, yLabR: 175, xLabY: 2076,
            leg: { x: 744, y0: 1244, dy: 29.2, len: 138, tx: 890, size: 31, lw: 5.5, dash: [14, 12] } },
    seasonSets(strength, strength, strDash, sdjfERAI, sdjfMERRA, sdjfCESM1, sdjfCCSM4, sdjfCCSM3,
               sdjfCESM1Hi, sdjfCESM1Lo, sdjfCCSM4Hi, sdjfCCSM4Lo, sdjfCCSM3Hi, sdjfCCSM3Lo));

drawPanel({ ...strAxes, id: 'sMAM', box: [1115, 1100, 1077, 1095], plot: [1351, 1204, 2179, 2032],
            yMax: 0.21, yStep: 0.03, yTitleX: 1181, xTitleY: 2158, yLabR: 1304, xLabY: 2095,
            leg: { x: 1889, y0: 1241, dy: 29.7, len: 143, tx: 2039, size: 31, lw: 5.5, dash: [14, 12] } },
    seasonSets(strength, strength, strDash, smamERAI, smamMERRA, smamCESM1, smamCCSM4, smamCCSM3,
               smamCESM1Hi, smamCESM1Lo, smamCCSM4Hi, smamCCSM4Lo, smamCCSM3Hi, smamCCSM3Lo));

drawPanel({ ...strAxes, id: 'sJJA', box: [2240, 1100, 1119, 1140], plot: [2473, 1204, 3325, 2055],
            yMax: 0.25, yStep: 0.04, yTitleX: 2297, xTitleY: 2181, yLabR: 2424, xLabY: 2121,
            leg: { x: 3026, y0: 1242, dy: 31, len: 147, tx: 3180, size: 31, lw: 5.5, dash: [14, 12] } },
    seasonSets(strength, strength, strDash, sjjaERAI, sjjaMERRA, sjjaCESM1, sjjaCCSM4, sjjaCCSM3,
               sjjaCESM1Hi, sjjaCESM1Lo, sjjaCCSM4Hi, sjjaCCSM4Lo, sjjaCCSM3Hi, sjjaCCSM3Lo));
</script>
</body>
</html>
